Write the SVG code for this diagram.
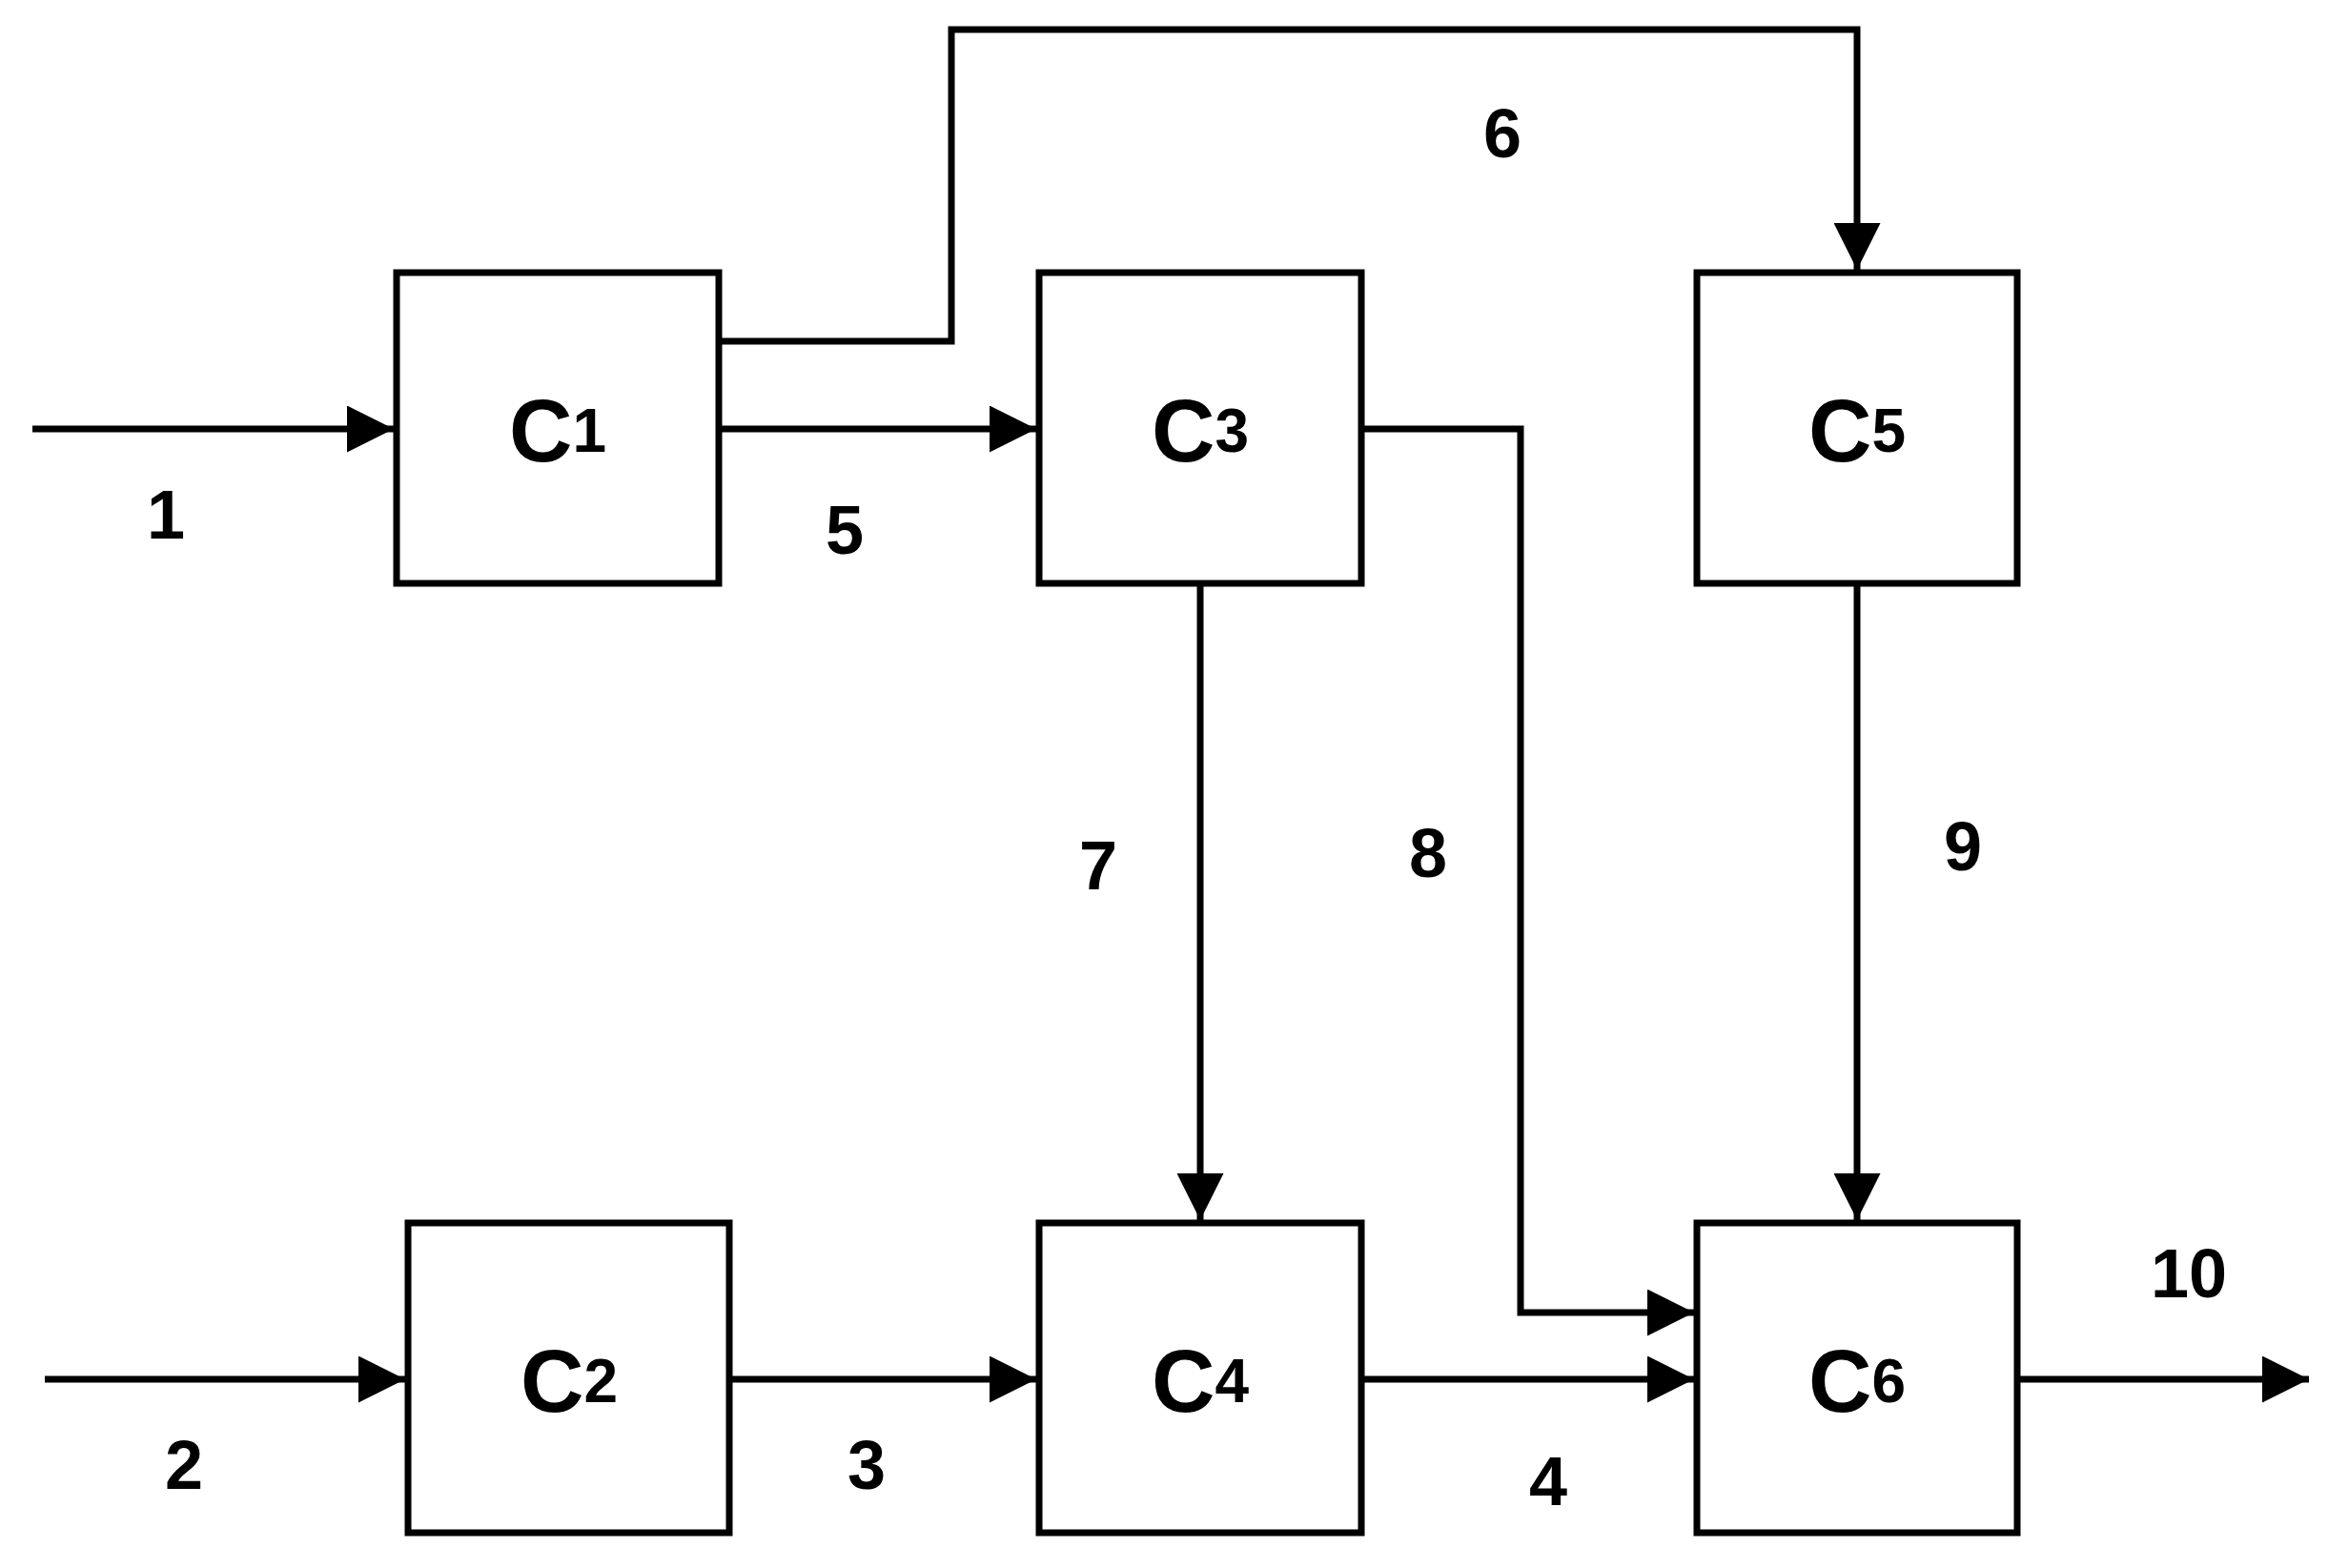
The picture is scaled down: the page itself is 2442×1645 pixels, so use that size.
<svg xmlns="http://www.w3.org/2000/svg" width="2442" height="1645" viewBox="0 0 2442 1645">
<style>
.box{fill:#fff;stroke:#000;stroke-width:7}
.ln{fill:none;stroke:#000;stroke-width:7}
text{font-family:"Liberation Sans",Arial,sans-serif;font-weight:bold;fill:#000}
.lab{font-size:72px;text-anchor:middle;dominant-baseline:central}
.nd{font-size:92px;text-anchor:middle;dominant-baseline:central}
.sub{font-size:64px}
</style>
<defs>
<marker id="a" markerWidth="7" markerHeight="7" refX="7" refY="3.5" orient="auto" markerUnits="strokeWidth"><path d="M0,0L7,3.5L0,7z" fill="#000"/></marker>
</defs>
<g id="connectors">
<path class="ln" d="M34,450H413" marker-end="url(#a)"/>
<path class="ln" d="M754,450H1087" marker-end="url(#a)"/>
<path class="ln" d="M754,358H998V31H1948V283" marker-end="url(#a)"/>
<path class="ln" d="M1428,450H1595V1377H1777" marker-end="url(#a)"/>
<path class="ln" d="M1259,612V1280" marker-end="url(#a)"/>
<path class="ln" d="M1948,612V1280" marker-end="url(#a)"/>
<path class="ln" d="M47,1447H425" marker-end="url(#a)"/>
<path class="ln" d="M765,1447H1087" marker-end="url(#a)"/>
<path class="ln" d="M1428,1447H1777" marker-end="url(#a)"/>
<path class="ln" d="M2116,1447H2422" marker-end="url(#a)"/>
</g>
<g id="C1"><rect class="box" x="416" y="286" width="338" height="326"/><text class="nd" x="585" y="452">C<tspan class="sub">1</tspan></text></g>
<g id="C3"><rect class="box" x="1090" y="286" width="338" height="326"/><text class="nd" x="1259" y="452">C<tspan class="sub">3</tspan></text></g>
<g id="C5"><rect class="box" x="1780" y="286" width="336" height="326"/><text class="nd" x="1948" y="452">C<tspan class="sub">5</tspan></text></g>
<g id="C2"><rect class="box" x="428" y="1283" width="337" height="325"/><text class="nd" x="597" y="1449">C<tspan class="sub">2</tspan></text></g>
<g id="C4"><rect class="box" x="1090" y="1283" width="338" height="325"/><text class="nd" x="1259" y="1449">C<tspan class="sub">4</tspan></text></g>
<g id="C6"><rect class="box" x="1780" y="1283" width="336" height="325"/><text class="nd" x="1948" y="1449">C<tspan class="sub">6</tspan></text></g>
<g id="labels">
<text class="lab" x="174" y="540">1</text>
<text class="lab" x="886" y="556">5</text>
<text class="lab" x="1576" y="140">6</text>
<text class="lab" x="1152" y="908">7</text>
<text class="lab" x="1498" y="895">8</text>
<text class="lab" x="2059" y="888">9</text>
<text class="lab" x="193" y="1537">2</text>
<text class="lab" x="909" y="1537">3</text>
<text class="lab" x="1624" y="1554">4</text>
<text class="lab" x="2296" y="1336">10</text>
</g>
</svg>
